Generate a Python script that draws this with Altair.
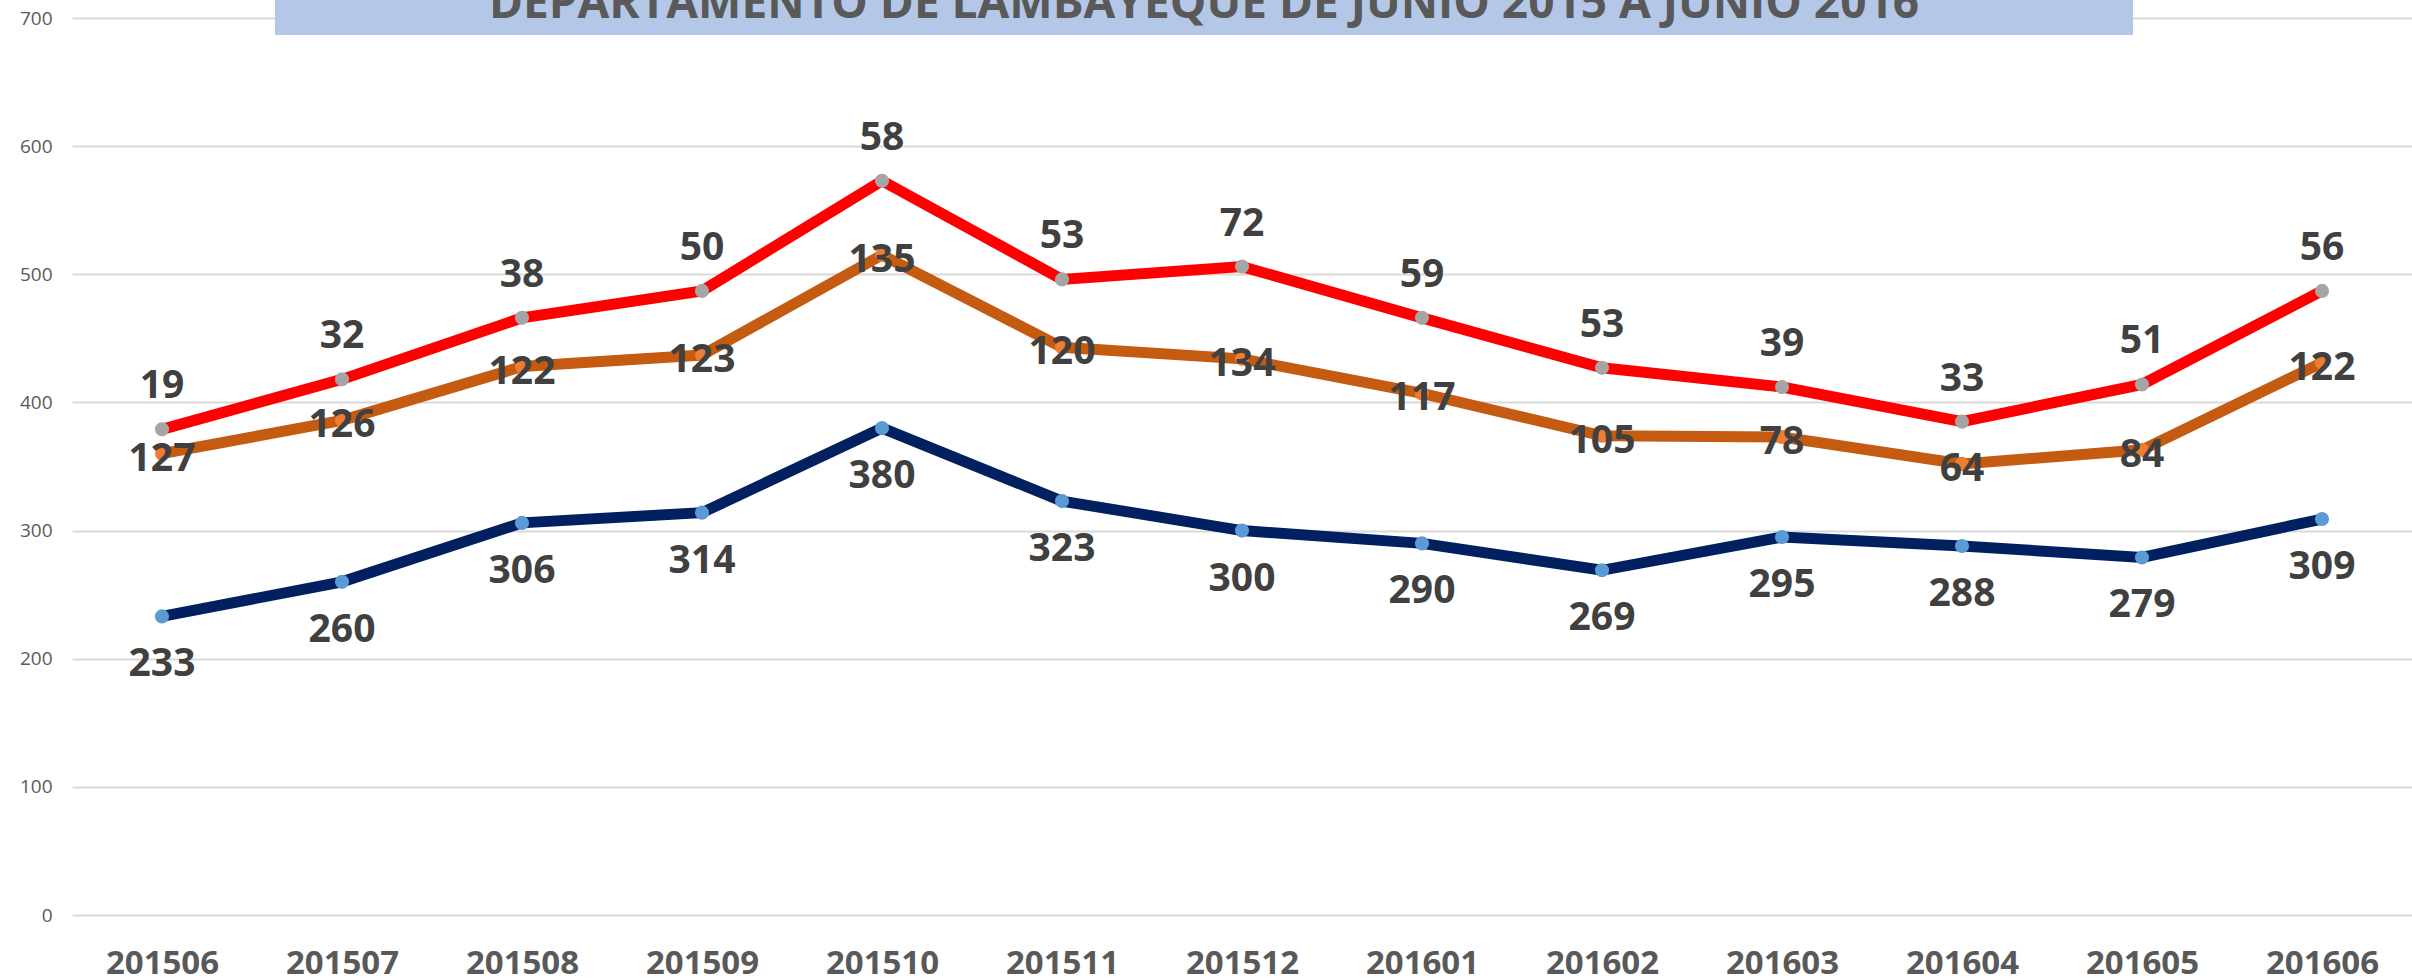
import altair as alt
import pandas as pd

months = ["201506", "201507", "201508", "201509", "201510", "201511", "201512",
          "201601", "201602", "201603", "201604", "201605", "201606"]
serie_azul = [233, 260, 306, 314, 380, 323, 300, 290, 269, 295, 288, 279, 309]
serie_naranja = [127, 126, 122, 123, 135, 120, 134, 117, 105, 78, 64, 84, 122]
serie_roja = [19, 32, 38, 50, 58, 53, 72, 59, 53, 39, 33, 51, 56]
series_names = ["azul", "naranja", "roja"]
line_colors = ["#002060", "#C55A11", "#FF0000"]
point_colors = ["#5B9BD5", "#ED7D31", "#A5A5A5"]
title_text = "DEPARTAMENTO DE LAMBAYEQUE DE JUNIO 2015 A JUNIO 2016"

rows = []
for order, (name, vals) in enumerate(zip(series_names, [serie_azul, serie_naranja, serie_roja])):
    for m, v in zip(months, vals):
        rows.append({"month": m, "serie": name, "order": order, "value": v})
df = pd.DataFrame(rows)

base = alt.Chart(df).transform_stack(
    stack="value", groupby=["month"], as_=["y0", "y1"],
    sort=[alt.SortField("order", order="ascending")]
)

x_enc = alt.X("month:N", sort=months, title=None,
              scale=alt.Scale(type="point", padding=0.5),
              axis=alt.Axis(labelAngle=0, labelFont="Open Sans", labelFontSize=33,
                            labelFontWeight="bold", labelColor="#595959",
                            labelPadding=32, domain=False, ticks=False, grid=False))
y_enc = alt.Y("y1:Q", title=None,
              scale=alt.Scale(domain=[0, 700], nice=False),
              axis=alt.Axis(values=[0, 100, 200, 300, 400, 500, 600, 700],
                            labelFont="Open Sans", labelFontSize=19, labelColor="#595959",
                            labelPadding=20, domain=False, ticks=False,
                            gridColor="#D9D9D9", gridWidth=2))

lines = base.mark_line(strokeWidth=11, strokeCap="round").encode(
    x=x_enc, y=y_enc,
    stroke=alt.Stroke("serie:N", scale=alt.Scale(domain=series_names, range=line_colors), legend=None),
    detail="serie:N",
)
points = base.mark_circle(size=200, opacity=1).encode(
    x=x_enc, y=y_enc,
    fill=alt.Fill("serie:N", scale=alt.Scale(domain=series_names, range=point_colors), legend=None),
)

def labels(name, dy):
    return base.transform_filter(alt.datum.serie == name).mark_text(
        font="Open Sans", fontSize=39, fontWeight="bold", color="#404040",
        baseline="middle", align="center", dy=dy
    ).encode(x=x_enc, y=y_enc, text="value:Q")

title_box = alt.Chart(df).mark_rect(color="#B4C7E7").encode(
    x=alt.value(203), x2=alt.value(2061), y=alt.value(-18), y2=alt.value(17)
)
title_mark = alt.Chart(pd.DataFrame({"t": [title_text]})).mark_text(
    font="Open Sans", fontSize=46, fontWeight="bold", color="#595959",
    align="center", baseline="alphabetic"
).encode(x=alt.value(1132), y=alt.value(0), text="t:N")

chart = alt.layer(
    lines, points, labels("azul", 48), labels("naranja", 5), labels("roja", -43),
    title_box, title_mark
).resolve_scale(fill="independent", stroke="independent").properties(
    width=2340, height=897,
    padding={"left": 72, "top": 18, "right": 0, "bottom": 65},
    autosize=alt.AutoSizeParams(type="none"),
).configure_view(stroke=None)

chart.save("out.html", embed_options={"renderer": "svg", "actions": False})
